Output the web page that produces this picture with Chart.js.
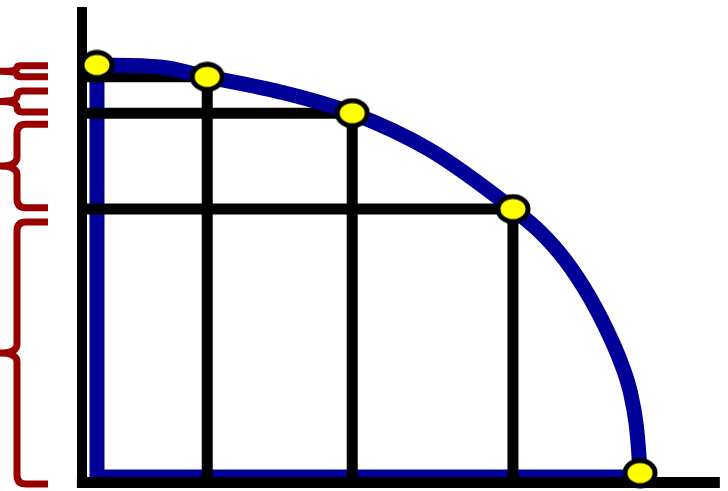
<!DOCTYPE html>
<html>
<head>
<meta charset="utf-8">
<script src="https://cdn.jsdelivr.net/npm/chart.js@4.4.1/dist/chart.umd.min.js"></script>
<style>
  html, body { margin: 0; padding: 0; background: #ffffff; }
  #c { display: block; }
</style>
</head>
<body>
<canvas id="c" width="728" height="491"></canvas>
<script>
// ---- Data ----
// Production possibilities frontier
const curveX = [0, 11.6, 20.3, 33.7, 47, 61.3, 76.6, 81.6, 86.2, 90.8, 93.9, 96.3, 98.2, 99.3, 99.8, 100];
const curveY = [100, 99.5, 97.1, 93.4, 88.2, 79.2, 64.7, 59.1, 52.2, 42.9, 35.0, 27.7, 19.9, 11.8, 4.4, 0];
// Marked combinations (yellow points)
const pointX = [0, 20.3, 47, 76.6, 100];
const pointY = [100, 97.1, 88.2, 64.7, 0];
// Opportunity-cost braces (top and bottom value of each brace)
const braceTop = [99.8, 93.6, 85.5, 61.5];
const braceBottom = [97.1, 88.5, 65, -2.7];
// Axes
const axisX = -2.76, axisY = -2.3;
const axisTop = 114.2, axisRight = 114.7, axisStart = -3.7;
// Frontier baseline (left and bottom edges)
const baseY = -1;

const BLUE = '#000099', RED = '#990000', BLACK = '#000000', YELLOW = '#ffff00';

// Elliptical yellow marker
function makeMarker() {
  const c = document.createElement('canvas');
  c.width = 36; c.height = 31;
  const g = c.getContext('2d');
  g.beginPath();
  g.ellipse(18, 15.5, 15, 12.5, 0, 0, Math.PI * 2);
  g.fillStyle = YELLOW;
  g.fill();
  g.lineWidth = 5;
  g.strokeStyle = BLACK;
  g.stroke();
  return c;
}
const marker = makeMarker();

const pts = (xs, ys) => xs.map((x, i) => ({ x: x, y: ys[i] }));

const datasets = [];
// markers on top
datasets.push({
  data: pts(pointX, pointY), showLine: false,
  pointStyle: marker, pointRadius: 15, order: 0
});
// frontier curve
datasets.push({
  data: pts(curveX, curveY), showLine: true, borderColor: BLUE, borderWidth: 15,
  cubicInterpolationMode: 'monotone', pointRadius: 0, fill: false, order: 1
});
// axes
datasets.push({
  data: [{ x: axisX, y: axisTop }, { x: axisX, y: axisStart }],
  showLine: true, borderColor: BLACK, borderWidth: 10, pointRadius: 0, order: 2
});
datasets.push({
  data: [{ x: axisStart, y: axisY }, { x: axisRight, y: axisY }],
  showLine: true, borderColor: BLACK, borderWidth: 11, pointRadius: 0, order: 2
});
// guide lines from the inner points
for (let i = 1; i <= 3; i++) {
  datasets.push({
    data: [{ x: axisX, y: pointY[i] }, { x: pointX[i], y: pointY[i] }],
    showLine: true, borderColor: BLACK, borderWidth: 11, pointRadius: 0, order: 3
  });
  datasets.push({
    data: [{ x: pointX[i], y: pointY[i] }, { x: pointX[i], y: axisY }],
    showLine: true, borderColor: BLACK, borderWidth: 11, pointRadius: 0, order: 3
  });
}
// frontier left and bottom edges
datasets.push({
  data: [{ x: pointX[0], y: pointY[0] }, { x: 0, y: baseY }, { x: pointX[4], y: baseY }],
  showLine: true, borderColor: BLUE, borderWidth: 15, borderJoinStyle: 'miter',
  pointRadius: 0, order: 4
});

// Braces drawn against the y scale
const bracePlugin = {
  id: 'braces',
  afterDraw(chart) {
    const ctx = chart.ctx, ys = chart.scales.y;
    const spine = 17, arm = 48, tip = 0;
    ctx.save();
    ctx.strokeStyle = RED;
    ctx.lineWidth = 7;
    ctx.lineJoin = 'round';
    ctx.lineCap = 'butt';
    for (let i = 0; i < braceTop.length; i++) {
      const t = ys.getPixelForValue(braceTop[i]);
      const b = ys.getPixelForValue(braceBottom[i]);
      const m = (t + b) / 2;
      const r = Math.min(9, (b - t) / 4);
      ctx.beginPath();
      ctx.moveTo(arm, t);
      ctx.lineTo(spine + r, t);
      ctx.quadraticCurveTo(spine, t, spine, t + r);
      ctx.lineTo(spine, m - r);
      ctx.quadraticCurveTo(spine, m, tip, m);
      ctx.quadraticCurveTo(spine, m, spine, m + r);
      ctx.lineTo(spine, b - r);
      ctx.quadraticCurveTo(spine, b, spine + r, b);
      ctx.lineTo(arm, b);
      ctx.stroke();
    }
    ctx.restore();
  }
};

new Chart(document.getElementById('c'), {
  type: 'scatter',
  data: { datasets: datasets },
  options: {
    responsive: false,
    animation: false,
    layout: { padding: 0, autoPadding: false },
    plugins: { legend: { display: false }, tooltip: { enabled: false } },
    scales: {
      x: { type: 'linear', min: -17.86, max: 116.2, display: false },
      y: { type: 'linear', min: -4.41, max: 115.93, display: false }
    }
  },
  plugins: [bracePlugin]
});
</script>
</body>
</html>
